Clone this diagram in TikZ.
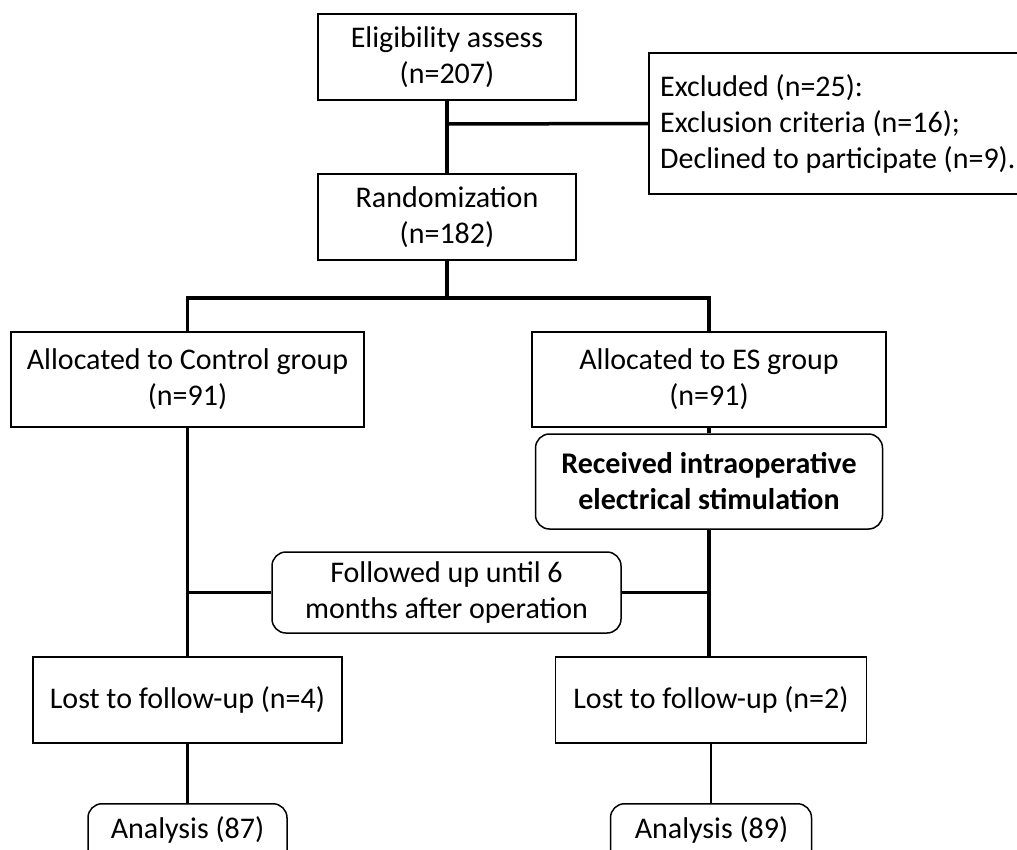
\documentclass[tikz,border=0pt]{standalone}
\usepackage{fontspec}
\setmainfont{Carlito}
\begin{document}
\begin{tikzpicture}[x=1pt,y=-1pt,
  every node/.style={font=\fontsize{30}{36}\selectfont, inner sep=0pt, align=center},
  box/.style={draw, line width=1.5pt, minimum width=#1},
  rbox/.style={draw, line width=1.5pt, rounded corners=14pt, minimum width=#1},
  thickline/.style={line width=3.5pt},
  thinline/.style={line width=2.4pt}]
\useasboundingbox (0,0) rectangle (1017,849);
\clip (0,0) rectangle (1017,849);
% nodes
\node[box=258, minimum height=86] (elig) at (447,57) {Eligibility assess\\(n=207)};
\node[box=440, minimum height=141, anchor=west] (excl) at (648,123.5) {};
\node[anchor=west, align=left] (excltext) at (660,123.5)
  {Excluded (n=25):\\Exclusion criteria (n=16);\\Declined to participate (n=9).};
\node[box=258, minimum height=86] (rand) at (447,217) {Randomization\\(n=182)};
\node[box=353, minimum height=95] (ctrl) at (187.5,379.5) {Allocated to Control group\\(n=91)};
\node[box=354, minimum height=95] (es) at (709,379.5) {Allocated to ES group\\(n=91)};
\node[rbox=347, minimum height=95, font=\fontsize{30}{36}\selectfont\bfseries] (recv) at (709,481.5) {Received intraoperative\\electrical stimulation};
\node[rbox=349, minimum height=81] (foll) at (446.5,592.5) {Followed up until 6\\months after operation};
\node[box=309, minimum height=86] (lostL) at (187.5,700) {Lost to follow-up (n=4)};
\node[box=311, minimum height=86] (lostR) at (711,700) {Lost to follow-up (n=2)};
\node[rbox=199, minimum height=80, anchor=north] (anaL) at (187.5,803) {};
\node[rbox=201, minimum height=80, anchor=north] (anaR) at (711,803) {};
\node (anaLt) at (187.5,830) {Analysis (87)};
\node (anaRt) at (711.5,830) {Analysis (89)};
% junction coordinates
\coordinate (j1) at (447,124);
\coordinate (j2) at (447,298);
\coordinate (jL) at (187.5,298);
\coordinate (jR) at (709,298);
\coordinate (fL) at (187.5,592.5);
\coordinate (fR) at (709,592.5);
% connectors
\draw[thickline] (elig.south) -- (rand.north);
\draw[thickline] (j1) -- (excl.west);
\draw[thickline] (rand.south) -- (j2);
\draw[thickline] (jL |- ctrl.north) -- (jL) -- (jR) -- (es.north);
\draw[thickline] (ctrl.south) -- (lostL.north);
\draw[thickline] (fL) -- (foll.west);
\draw[thickline] (foll.east) -- (fR);
\draw[thickline] (es.south) -- (recv.north);
\draw[thickline] (recv.south) -- (recv.south |- lostR.north);
\draw[thinline] (lostL.south) -- (anaL.north);
\draw[thinline] (lostR.south) -- (anaR.north);
\end{tikzpicture}
\end{document}
